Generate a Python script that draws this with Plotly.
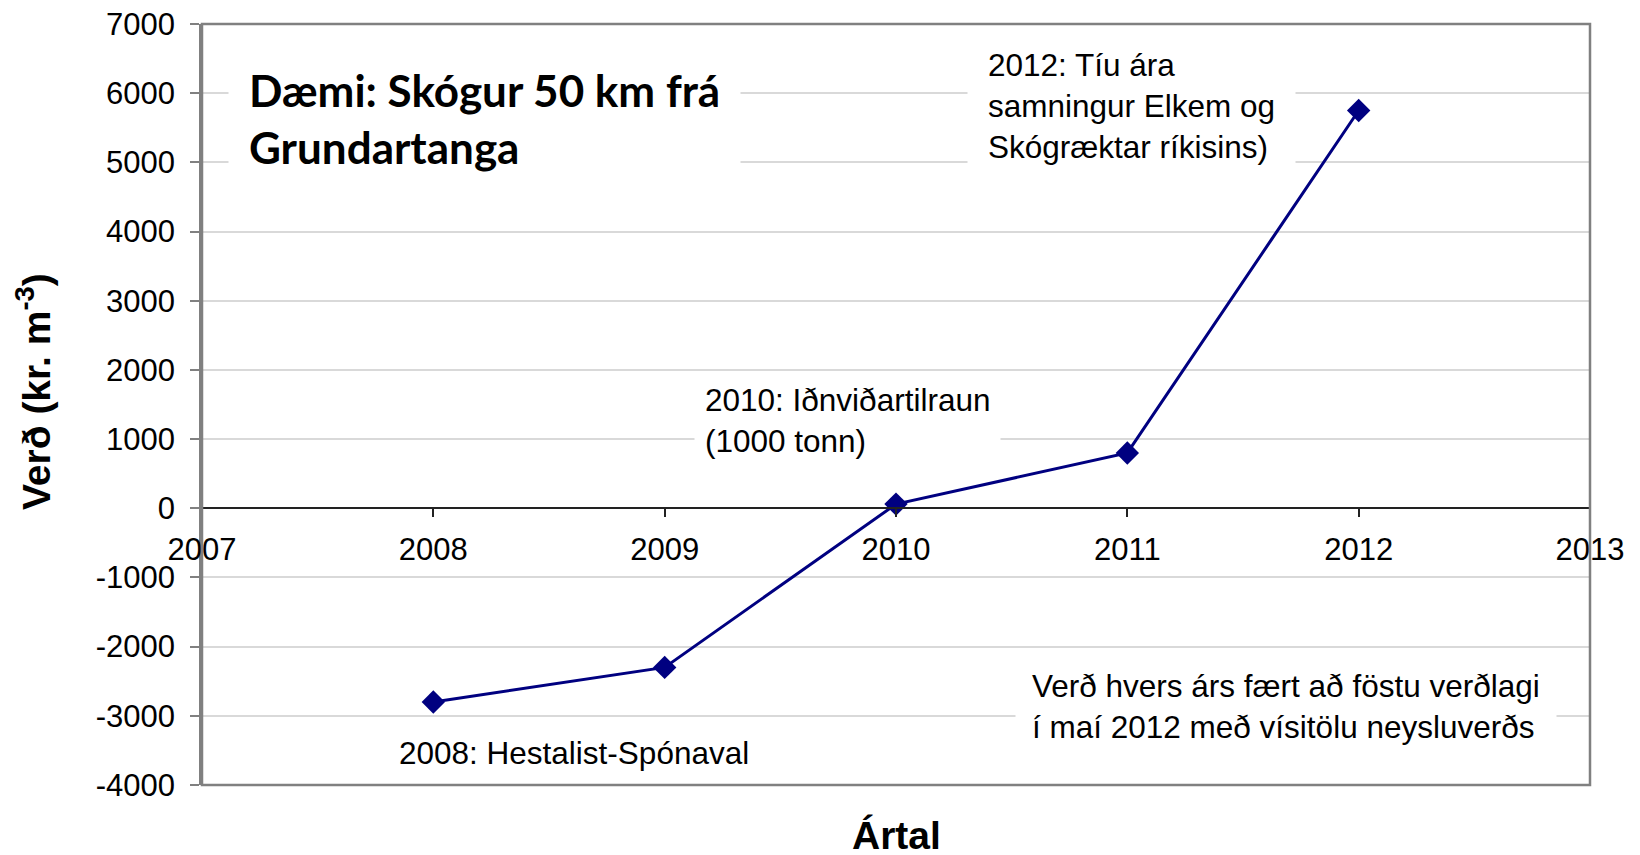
import plotly.graph_objects as go

years = [2008, 2009, 2010, 2011, 2012]
prices = [-2800, -2300, 60, 800, 5750]

x_ticks = [2007, 2008, 2009, 2010, 2011, 2012, 2013]
y_ticks = [-4000, -3000, -2000, -1000, 0, 1000, 2000, 3000, 4000, 5000, 6000, 7000]

title_text = "Dæmi: Skógur 50 km frá<br>Grundartanga"
note_2012 = "2012: Tíu ára<br>samningur Elkem og<br>Skógræktar ríkisins)"
note_2010 = "2010: Iðnviðartilraun<br>(1000 tonn)"
note_2008 = "2008: Hestalist-Spónaval"
note_index = "Verð hvers árs fært að föstu verðlagi<br>í maí 2012 með vísitölu neysluverðs"
y_title = "Verð (kr. m<sup>-3</sup>)"
x_title = "Ártal"

OFF = 8  # page body margin
W_FIG, H_FIG = 1640 - OFF, 855 - OFF
# plot area in screen pixels
L, R, T, B = 202, 1590, 24, 785
PW, PH = R - L, B - T


def px(xp):
    return (xp - L) / PW


def py(yp):
    return (B - yp) / PH


FONT = "Liberation Sans, Arial, sans-serif"
ANN_SIZE = 31.5
TICK_SIZE = 31

fig = go.Figure()
fig.add_trace(go.Scatter(
    x=years, y=prices, mode="lines+markers",
    line=dict(color="#000080", width=3),
    marker=dict(symbol="diamond", size=18, color="#000080"),
    showlegend=False,
))

fig.update_layout(
    width=W_FIG, height=H_FIG,
    margin=dict(l=L - OFF, r=W_FIG - (R - OFF), t=T - OFF, b=H_FIG - (B - OFF), autoexpand=False),
    paper_bgcolor="white", plot_bgcolor="white",
    font=dict(family=FONT, size=TICK_SIZE, color="black"),
    xaxis=dict(
        range=[2007, 2013], tickvals=x_ticks, ticktext=[str(v) for v in x_ticks],
        anchor="free", position=4 / 11,
        showgrid=False, zeroline=False,
        showline=True, linecolor="#222222", linewidth=1.5,
        ticks="outside", ticklen=8, tickcolor="#222222", tickwidth=1.5,
        ticklabelstandoff=6, ticklabeloverflow="allow",
        tickfont=dict(family=FONT, size=TICK_SIZE, color="black"),
    ),
    yaxis=dict(
        range=[-4000, 7000], tickvals=y_ticks, ticktext=[str(v) for v in y_ticks],
        showgrid=True, gridcolor="#d9d9d9", gridwidth=1.5,
        zeroline=False,
        showline=True, linecolor="#808080", linewidth=2.5,
        ticks="outside", ticklen=9, tickcolor="#808080", tickwidth=1.5,
        ticklabelstandoff=9, ticklabeloverflow="allow",
        tickfont=dict(family=FONT, size=TICK_SIZE, color="black"),
    ),
    shapes=[dict(type="rect", xref="paper", yref="paper", x0=0, x1=1, y0=0, y1=1,
                 line=dict(color="#808080", width=2.5), layer="above")],
)

ann_common = dict(xref="paper", yref="paper", showarrow=False, align="left",
                  xanchor="left", yanchor="middle", bgcolor="white")

fig.add_annotation(text=title_text, x=px(228), y=py(119), borderpad=20,
                   font=dict(family="Lato, sans-serif", size=44, color="black", weight="bold"),
                   **ann_common)
fig.add_annotation(text=note_2012, x=px(967), y=py(106), borderpad=20,
                   font=dict(family=FONT, size=ANN_SIZE, color="black"), **ann_common)
fig.add_annotation(text=note_2010, x=px(694), y=py(420), borderpad=10,
                   font=dict(family=FONT, size=ANN_SIZE, color="black"), **ann_common)
fig.add_annotation(text=note_2008, x=px(388), y=py(753), borderpad=10,
                   font=dict(family=FONT, size=ANN_SIZE, color="black"), **ann_common)
fig.add_annotation(text=note_index, x=px(1015), y=py(706), borderpad=16,
                   font=dict(family=FONT, size=ANN_SIZE, color="black"), **ann_common)

fig.add_annotation(text=x_title, x=px(897), y=py(835), xref="paper", yref="paper",
                   showarrow=False, xanchor="center", yanchor="middle",
                   font=dict(family=FONT, size=39, color="black", weight="bold"))
fig.add_annotation(text=y_title, x=px(33), y=py(392), xref="paper", yref="paper",
                   showarrow=False, xanchor="center", yanchor="middle", textangle=-90,
                   font=dict(family=FONT, size=39, color="black", weight="bold"))

fig.write_html("out.html")
